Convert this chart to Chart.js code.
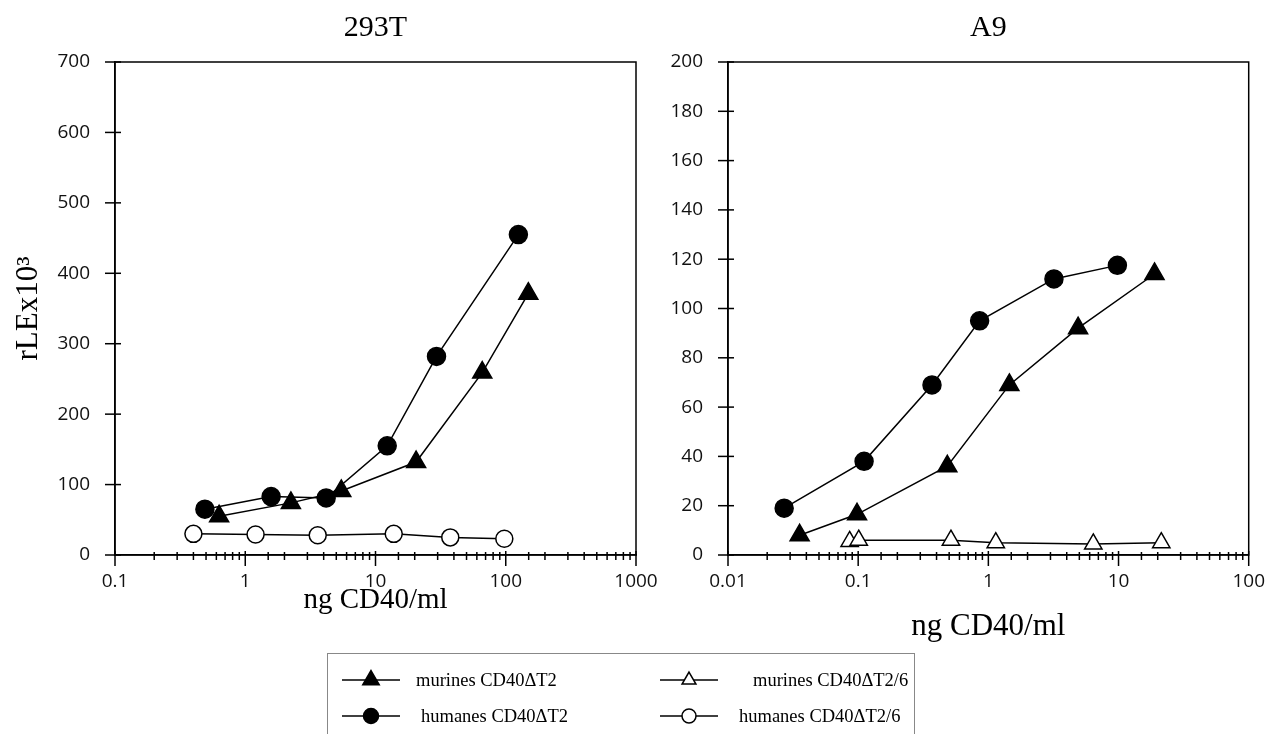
<!DOCTYPE html>
<html>
<head>
<meta charset="utf-8">
<script src="https://cdn.jsdelivr.net/npm/chart.js@4.4.1/dist/chart.umd.min.js"></script>
<style>
  html, body { margin: 0; padding: 0; background: #fff; width: 1270px; height: 734px; overflow: hidden; }
  canvas.plot { position: absolute; top: 0; }
  #legend { position: absolute; left: 327px; top: 653px; width: 588px; height: 100px;
            border: 1px solid #888; box-sizing: border-box; }
  .lg { position: absolute; font-family: "Liberation Serif", serif; font-size: 18.5px; line-height: 24px; color: #000; white-space: nowrap; }
  .mk { position: absolute; }
</style>
</head>
<body>
<canvas id="left" class="plot" width="716" height="640" style="left:0"></canvas>
<canvas id="right" class="plot" width="618" height="660" style="left:662px"></canvas>
<div id="legend"></div>
<script>
// 293T panel
const xTicks293 = [0.1, 1, 10, 100, 1000];
const yMax293 = 700, yStep293 = 100;
const mur293X = [0.63, 2.24, 5.46, 20.5, 66, 149];
const mur293Y = [55, 74, 91, 132, 259, 371];
const hum293X = [0.49, 1.58, 4.18, 12.3, 29.4, 125];
const hum293Y = [65, 83, 81, 155, 282, 455];
const hum6_293X = [0.40, 1.2, 3.6, 13.8, 37.5, 97.5];
const hum6_293Y = [30, 29, 28, 30, 25, 23];

// A9 panel
const xTicksA9 = [0.01, 0.1, 1, 10, 100];
const yMaxA9 = 200, yStepA9 = 20;
const humA9X = [0.027, 0.111, 0.369, 0.857, 3.19, 9.8];
const humA9Y = [19, 38, 69, 95, 112, 117.5];
const murA9X = [0.0355, 0.098, 0.484, 1.45, 4.89, 18.9];
const murA9Y = [8, 16.5, 36, 69, 92, 114];
const mur6A9X = [0.086, 0.101, 0.516, 1.14, 6.4, 21.3];
const mur6A9Y = [5.5, 6, 6, 5, 4.5, 5];

const isDecade = v => Math.abs(Math.log10(v) - Math.round(Math.log10(v))) < 1e-6;
const pts = (xs, ys) => xs.map((x, i) => ({ x, y: ys[i] }));

function series(label, xs, ys, style, filled, r) {
  return {
    label, data: pts(xs, ys),
    borderColor: '#000', borderWidth: 1.5,
    pointStyle: style, pointRadius: r, pointHoverRadius: r,
    pointBackgroundColor: filled ? '#000' : '#fff',
    pointBorderColor: '#000', pointBorderWidth: 1.5,
    tension: 0, clip: false, fill: false
  };
}

// box round the plot and ticks that cross the axes
const crossTicks = {
  id: 'crossTicks',
  beforeDatasetsDraw(chart) {
    const { ctx, chartArea: a, scales: { x, y } } = chart;
    ctx.save();
    ctx.strokeStyle = '#000';
    ctx.lineWidth = 1.5;
    ctx.strokeRect(a.left, a.top, a.right - a.left, a.bottom - a.top);
    x.ticks.forEach(t => {
      const px = x.getPixelForValue(t.value);
      const major = isDecade(t.value);
      ctx.beginPath();
      ctx.moveTo(px, a.bottom - (major ? 4 : 3));
      ctx.lineTo(px, a.bottom + (major ? 11 : 5));
      ctx.stroke();
    });
    y.ticks.forEach(t => {
      const py = y.getPixelForValue(t.value);
      ctx.beginPath();
      ctx.moveTo(a.left - 10, py);
      ctx.lineTo(a.left + 6, py);
      ctx.stroke();
    });
    ctx.restore();
  }
};

const tickFont = { family: '"Open Sans", sans-serif', size: 19 };
const serif = (size) => ({ family: '"Liberation Serif", serif', size, weight: 'normal' });

function makeChart(id, title, datasets, o) {
  return new Chart(document.getElementById(id), {
    type: 'line',
    data: { datasets },
    options: {
      responsive: false,
      animation: false,
      events: [],
      layout: { padding: { left: 0, right: o.padRight, top: 0, bottom: 0 } },
      plugins: {
        legend: { display: false },
        tooltip: { enabled: false },
        title: { display: true, fullSize: false, text: title, color: '#000', font: serif(30),
                 padding: { top: 10, bottom: 16 } }
      },
      scales: {
        x: {
          type: 'logarithmic', min: o.xTicks[0], max: o.xTicks[o.xTicks.length - 1],
          grid: { display: false, drawTicks: false },
          border: { display: true, color: '#000', width: 1.5 },
          ticks: {
            autoSkip: false, maxRotation: 0, padding: 15, color: '#111', font: tickFont,
            callback: v => (isDecade(v) && o.xTicks.some(t => Math.abs(t - v) / t < 1e-6)) ? String(v) : ''
          },
          title: { display: true, text: 'ng CD40/ml', color: '#000', font: serif(o.xTitleSize),
                   padding: { top: 0, bottom: o.xTitlePad } },
          afterFit: s => { s.height = o.xHeight; }
        },
        y: {
          min: 0, max: o.yMax,
          grid: { display: false, drawTicks: false },
          border: { display: true, color: '#000', width: 1.5 },
          ticks: { stepSize: o.yStep, padding: 25, color: '#111', font: tickFont },
          title: { display: o.yTitle, text: 'rLEx10³', color: '#000', font: serif(31),
                   padding: { top: 10, bottom: 0 } },
          afterFit: s => { s.width = o.yWidth; }
        }
      }
    },
    plugins: [crossTicks]
  });
}

makeChart('left', '293T', [
  series('humanes CD40ΔT2/6', hum6_293X, hum6_293Y, 'circle', false, 8.5),
  series('murines CD40ΔT2', mur293X, mur293Y, 'triangle', true, 11),
  series('humanes CD40ΔT2', hum293X, hum293Y, 'circle', true, 9)
], { xTicks: xTicks293, yMax: yMax293, yStep: yStep293, padRight: 80,
     xHeight: 85, xTitlePad: 22, xTitleSize: 29, yWidth: 115, yTitle: true });

makeChart('right', 'A9', [
  series('murines CD40ΔT2/6', mur6A9X, mur6A9Y, 'triangle', false, 10),
  series('murines CD40ΔT2', murA9X, murA9Y, 'triangle', true, 11),
  series('humanes CD40ΔT2', humA9X, humA9Y, 'circle', true, 9)
], { xTicks: xTicksA9, yMax: yMaxA9, yStep: yStepA9, padRight: 12,
     xHeight: 105, xTitlePad: 15, xTitleSize: 31, yWidth: 66, yTitle: false });

// legend box
const legendItems = [
  { text: 'murines CD40ΔT2',   style: 'triangle', filled: true,  r: 9.5, mx: 11,  tx: 88,  row: 0 },
  { text: 'humanes CD40ΔT2',   style: 'circle',   filled: true,  r: 7.5, mx: 11,  tx: 93,  row: 1 },
  { text: 'murines CD40ΔT2/6', style: 'triangle', filled: false, r: 8,   mx: 329, tx: 425, row: 0 },
  { text: 'humanes CD40ΔT2/6', style: 'circle',   filled: false, r: 7,   mx: 329, tx: 411, row: 1 }
];
const rowY = [26, 62];
const box = document.getElementById('legend');
legendItems.forEach(it => {
  const c = document.createElement('canvas');
  c.width = 64; c.height = 26; c.className = 'mk';
  c.style.left = it.mx + 'px';
  c.style.top = (rowY[it.row] - 13) + 'px';
  box.appendChild(c);
  const ctx = c.getContext('2d');
  ctx.strokeStyle = '#000';
  ctx.lineWidth = 1.5;
  ctx.beginPath(); ctx.moveTo(3, 13); ctx.lineTo(61, 13); ctx.stroke();
  ctx.fillStyle = it.filled ? '#000' : '#fff';
  Chart.helpers.drawPoint(ctx, { pointStyle: it.style, radius: it.r, rotation: 0, borderWidth: 1.5 }, 32, 13);
  const s = document.createElement('div');
  s.className = 'lg';
  s.textContent = it.text;
  s.style.left = it.tx + 'px';
  s.style.top = (rowY[it.row] - 12) + 'px';
  box.appendChild(s);
});
</script>
</body>
</html>
